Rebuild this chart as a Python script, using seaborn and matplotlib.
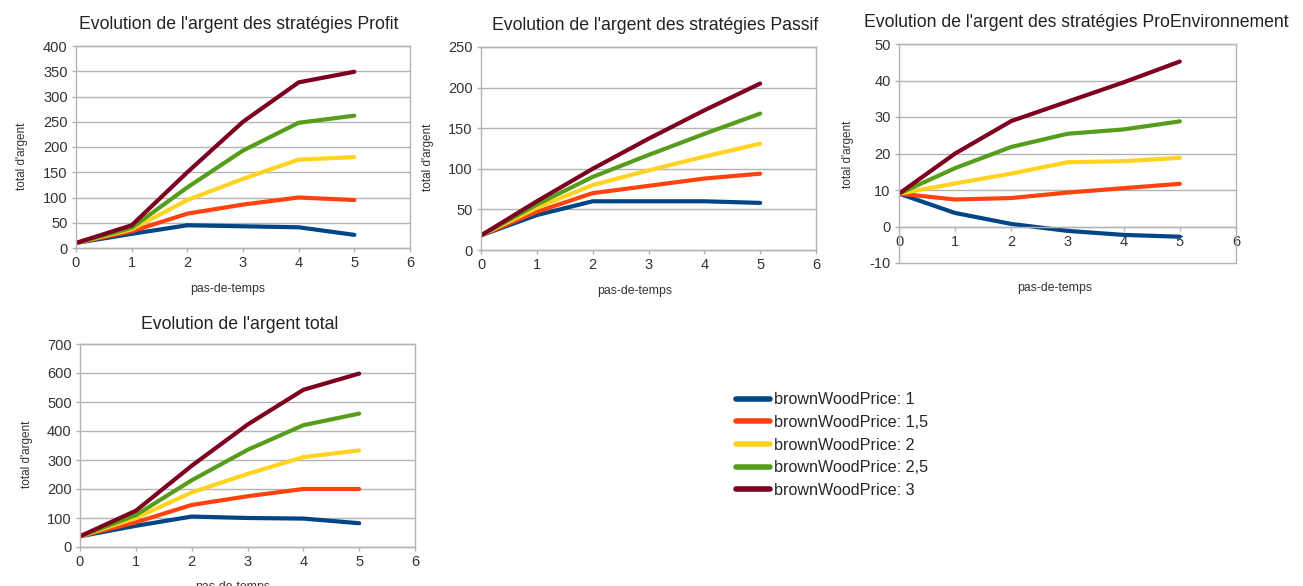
import pandas as pd
import seaborn as sns
import matplotlib.pyplot as plt
from matplotlib.lines import Line2D

# data
steps = [0, 1, 2, 3, 4, 5]
prices = ['1', '1,5', '2', '2,5', '3']
colors = ['#004586', '#ff420e', '#ffd320', '#579d1c', '#7e0021']

profit = [
    [10, 28, 45, 43, 41, 26],
    [10, 33, 68, 86, 100, 95],
    [10, 37, 95, 137, 175, 180],
    [10, 40, 120, 193, 248, 262],
    [10, 45, 150, 250, 328, 349],
]
passif = [
    [18, 43, 60, 60, 60, 58],
    [18, 47, 70, 79, 88, 94],
    [18, 52, 80, 98, 115, 131],
    [18, 56, 90, 117, 143, 168],
    [18, 60, 100, 137, 172, 205],
]
proenv = [
    [9, 3.7, 0.7, -1.2, -2.3, -2.8],
    [9, 7.4, 7.8, 9.3, 10.5, 11.7],
    [9, 11.8, 14.5, 17.6, 17.9, 18.8],
    [9, 16, 21.8, 25.4, 26.6, 28.8],
    [9, 20, 28.9, 34.2, 39.5, 45.2],
]
total = [
    [37, 73, 105, 100, 98, 82],
    [37, 85, 145, 175, 200, 200],
    [37, 100, 188, 252, 310, 333],
    [37, 110, 230, 335, 420, 460],
    [37, 125, 280, 422, 542, 598],
]

titles = ["Evolution de l'argent des stratégies Profit",
          "Evolution de l'argent des stratégies Passif",
          "Evolution de l'argent des stratégies ProEnvironnement",
          "Evolution de l'argent total"]


def to_long(series):
    rows = []
    for price, vals in zip(prices, series):
        for s, v in zip(steps, vals):
            rows.append({'pas': s, 'argent': v, 'price': price})
    return pd.DataFrame(rows)


sns.set_style('white')
plt.rcParams['font.family'] = ['Liberation Sans', 'DejaVu Sans']
plt.rcParams['axes.unicode_minus'] = False

W, H = 1303, 586
fig = plt.figure(figsize=(W / 100, H / 100), dpi=100)


def make_ax(l, r, t, b):
    return fig.add_axes([l / W, 1 - b / H, (r - l) / W, (b - t) / H])


# box (left, right, top, bottom) in px, ylim, ystep, title x / pad,
# ylabel coords, xlabel coords
panels = [
    (profit, (76, 410, 46, 248), (0, 400), 50, 0.488, 12.5, (-0.144, 0.455), (0.455, -0.173)),
    (passif, (481, 816, 47, 250), (0, 250), 50, 0.519, 12.5, (-0.140, 0.458), (0.46, -0.172)),
    (proenv, (899, 1236, 44, 263), (-10, 50), 10, 0.525, 12.5, (-0.134, 0.498), (0.463, -0.087)),
    (total, (80, 415, 344, 547), (0, 700), 100, 0.475, 11, (-0.140, 0.458), (0.457, -0.167)),
]

grey = '#b3b3b3'
for i, (series, box, ylim, ystep, tx, tpad, ylc, xlc) in enumerate(panels):
    ax = make_ax(*box)
    sns.lineplot(data=to_long(series), x='pas', y='argent', hue='price',
                 palette=colors, linewidth=3, legend=False, ax=ax)
    ax.set_xlim(0, 6)
    ax.set_ylim(*ylim)
    ax.set_xticks(range(0, 7))
    ax.set_yticks(range(ylim[0], ylim[1] + 1, ystep))
    ax.grid(axis='y', color=grey, linewidth=1, clip_on=False)
    ax.set_axisbelow(True)
    for sp in ax.spines.values():
        sp.set_color(grey)
        sp.set_linewidth(1)
    ax.tick_params(axis='both', labelsize=10.5, labelcolor='#333333',
                   color=grey, length=3, width=1, pad=3, direction='out')
    ax.tick_params(axis='x', bottom=True)
    ax.tick_params(axis='y', left=True)
    ax.set_title(titles[i], fontsize=12.7, color='#222222', pad=tpad, x=tx)
    ax.set_ylabel("total d'argent", fontsize=8.5, color='#333333')
    ax.set_xlabel('pas-de-temps', fontsize=8.8, color='#333333')
    if ylim[0] < 0:
        # x axis crosses at 0 like the original spreadsheet chart
        ax.spines['bottom'].set_position(('data', 0))
    ax.yaxis.set_label_coords(*ylc)
    ax.xaxis.set_label_coords(*xlc)

handles = [Line2D([], [], color=c, linewidth=4) for c in colors]
labels = ['brownWoodPrice: ' + p for p in prices]
fig.legend(handles, labels, loc='upper left', bbox_to_anchor=(730 / W, 1 - 386 / H),
           frameon=False, fontsize=11.65, handlelength=2.05, handletextpad=0.3,
           labelspacing=0.47, borderaxespad=0)

fig.savefig('out.png', dpi=100)
